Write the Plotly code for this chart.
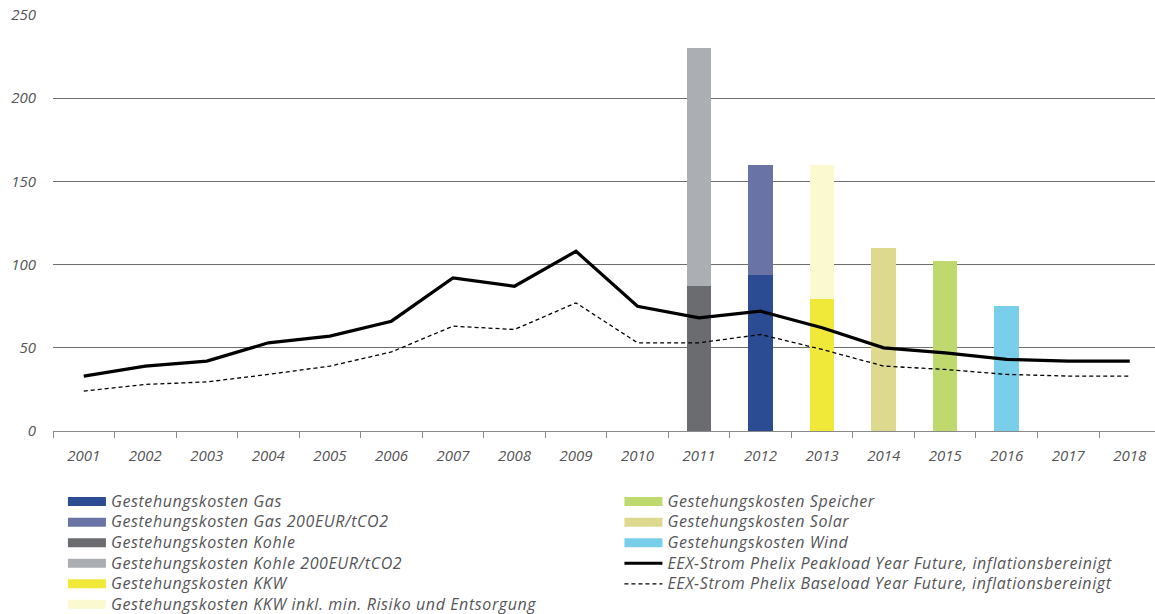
import plotly.graph_objects as go

# Years on the category axis
years = [str(y) for y in range(2001, 2019)]

# EEX power futures, inflation adjusted (EUR/MWh)
peakload = [33, 39, 42, 53, 57, 66, 92, 87, 108, 75, 68, 72, 62, 50, 47, 43, 42, 42]
baseload = [24, 28, 29.5, 34, 39, 47.5, 63, 61, 77, 53, 53, 58, 49, 39, 37, 34, 33, 33]

# Generation costs per technology (one bar each)
kohle_200 = 230
kohle = 87
gas_200 = 160
gas = 94
kkw_inkl = 160
kkw = 79.5
solar = 110
speicher = 102
wind = 75

C_GAS = "#2b4c93"
C_GAS200 = "#6a73a6"
C_KOHLE = "#6b6c70"
C_KOHLE200 = "#abaeb2"
C_KKW = "#f0e93a"
C_KKW_INKL = "#fbf9d0"
C_SPEICHER = "#bfd96e"
C_SOLAR = "#ddd98e"
C_WIND = "#79cfea"

TEXT = "#555558"
FONT = "Open Sans"

fig = go.Figure()

BAR_W = 0.4

def bar(x, y, color):
    fig.add_trace(go.Bar(x=[x], y=[y], marker=dict(color=color, line=dict(width=0)),
                         width=BAR_W, opacity=1, showlegend=False, hoverinfo="y"))

# Full-cost bars behind, base-cost bars in front
bar("2011", kohle_200, C_KOHLE200)
bar("2011", kohle, C_KOHLE)
bar("2012", gas_200, C_GAS200)
bar("2012", gas, C_GAS)
bar("2013", kkw_inkl, C_KKW_INKL)
bar("2013", kkw, C_KKW)
bar("2014", solar, C_SOLAR)
bar("2015", speicher, C_SPEICHER)
bar("2016", wind, C_WIND)


def label(text):
    # legend text: slightly larger than the row pitch, loosely tracked
    return '<span style="font-size:16px;letter-spacing:0.6px">' + text + "</span>"


# Price lines
fig.add_trace(go.Scatter(x=years, y=baseload, mode="lines",
                         line=dict(color="black", width=1.3, dash="4px,3px"),
                         name=label("EEX-Strom Phelix Baseload Year Future, inflationsbereinigt"),
                         legend="legend2", legendrank=5))
fig.add_trace(go.Scatter(x=years, y=peakload, mode="lines",
                         line=dict(color="black", width=3.2),
                         name=label("EEX-Strom Phelix Peakload Year Future, inflationsbereinigt"),
                         legend="legend2", legendrank=4))

# Wide rectangular swatches for the bar series in the legends
def swatch(name, color, legend, rank):
    fig.add_trace(go.Scatter(x=[None], y=[None], mode="lines",
                             line=dict(color=color, width=9),
                             name=label(name), legend=legend, legendrank=rank,
                             hoverinfo="skip"))

swatch("Gestehungskosten Gas", C_GAS, "legend", 1)
swatch("Gestehungskosten Gas 200EUR/tCO2", C_GAS200, "legend", 2)
swatch("Gestehungskosten Kohle", C_KOHLE, "legend", 3)
swatch("Gestehungskosten Kohle 200EUR/tCO2", C_KOHLE200, "legend", 4)
swatch("Gestehungskosten KKW", C_KKW, "legend", 5)
swatch("Gestehungskosten KKW inkl. min. Risiko und Entsorgung", C_KKW_INKL, "legend", 6)
swatch("Gestehungskosten Speicher", C_SPEICHER, "legend2", 1)
swatch("Gestehungskosten Solar", C_SOLAR, "legend2", 2)
swatch("Gestehungskosten Wind", C_WIND, "legend2", 3)

legend_font = dict(family=FONT, size=13.5, color=TEXT, style="italic")

fig.update_layout(
    width=1155, height=614,
    margin=dict(l=53, r=0, t=15, b=183, autoexpand=False),
    paper_bgcolor="white", plot_bgcolor="white",
    barmode="overlay", bargap=0,
    font=dict(family=FONT, color=TEXT),
    showlegend=True,
    legend=dict(x=0.009, y=-0.133, xanchor="left", yanchor="top",
                orientation="v", font=legend_font, itemwidth=38,
                tracegroupgap=0, bgcolor="rgba(0,0,0,0)"),
    legend2=dict(x=0.514, y=-0.133, xanchor="left", yanchor="top",
                 orientation="v", font=legend_font, itemwidth=38,
                 tracegroupgap=0, bgcolor="rgba(0,0,0,0)"),
    xaxis=dict(type="category", categoryorder="array", categoryarray=years,
               range=[-0.5, 17.41], showgrid=False, zeroline=False,
               showline=True, linecolor="#8a8a8a", linewidth=1.2,
               ticks="outside", tickson="boundaries", ticklen=6, tickcolor="#8a8a8a",
               tickfont=dict(family=FONT, size=15, color=TEXT, style="italic"),
               ticklabelstandoff=11, fixedrange=True),
    yaxis=dict(range=[0, 250], tickvals=[0, 50, 100, 150, 200, 250],
               showgrid=True, gridcolor="#6e6e6e", gridwidth=1,
               zeroline=False, showline=False, ticks="",
               tickfont=dict(family=FONT, size=15, color=TEXT, style="italic"),
               ticklabelstandoff=16, fixedrange=True),
)

fig.write_html("out.html")
